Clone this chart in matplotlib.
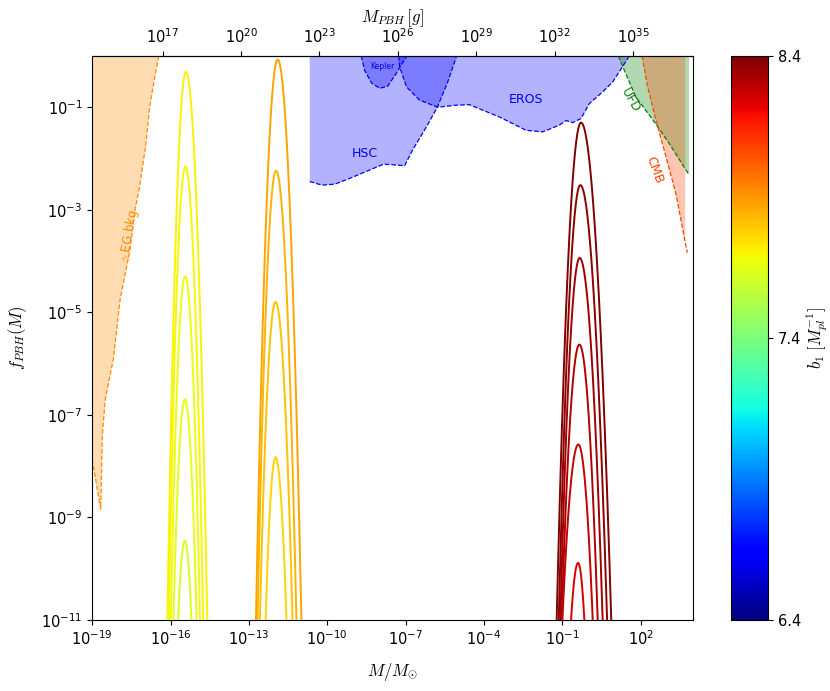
import numpy as np
import matplotlib
matplotlib.use("Agg")
import matplotlib.pyplot as plt
from matplotlib import cm, colors

MSUN_G = 1.989e33

# ---------- PBH mass-function curves (log10 values) ----------
# each curve: peak position, peak height, and where it reaches f = 1e-11 on each side
YEL_B1 = [7.71, 7.69, 7.67, 7.65, 7.62]
YEL_PEAK_M = [-15.41, -15.43, -15.44, -15.45, -15.45]
YEL_PEAK_F = [-0.31, -2.16, -4.30, -6.70, -9.46]
YEL_LEFT = [-16.12, -16.07, -15.99, -15.89, -15.71]
YEL_RIGHT = [-14.59, -14.75, -14.87, -15.00, -15.20]

ORA_B1 = [7.87, 7.84, 7.81, 7.77]
ORA_PEAK_M = [-11.90, -11.96, -11.98, -11.98]
ORA_PEAK_F = [-0.07, -2.24, -4.80, -7.83]
ORA_LEFT = [-12.73, -12.67, -12.58, -12.36]
ORA_RIGHT = [-10.99, -11.18, -11.33, -11.56]

RED_B1 = [8.40, 8.37, 8.34, 8.31, 8.28, 8.25]
RED_PEAK_M = [-0.29, -0.315, -0.34, -0.35, -0.39, -0.40]
RED_PEAK_F = [-1.30, -2.52, -3.94, -5.63, -7.58, -9.89]
RED_LEFT = [-1.22, -1.14, -1.08, -1.03, -1.00, -0.67]
RED_RIGHT = [0.87, 0.71, 0.54, 0.35, 0.16, -0.16]

# ---------- constraint boundaries (log10 M/Msun, log10 f) ----------
EG_M = [-19.0, -18.67, -18.61, -18.50, -18.19, -17.93, -17.55, -17.36, -17.20, -16.95, -16.80, -16.60, -16.45]
EG_F = [-7.87, -8.84, -7.41, -6.70, -5.92, -4.75, -3.78, -3.00, -2.60, -1.75, -1.00, -0.40, 0.00]

HSC_M = [-10.67, -10.20, -9.71, -9.20, -8.64, -7.84, -7.04, -6.73, -6.20, -5.78, -5.40, -5.05]
HSC_F = [-2.45, -2.52, -2.50, -2.40, -2.28, -2.11, -2.14, -1.83, -1.38, -0.99, -0.52, 0.00]

KEP_M = [-8.70, -8.57, -8.30, -7.99, -7.69, -7.36, -7.15, -6.95]
KEP_F = [0.00, -0.28, -0.53, -0.63, -0.59, -0.34, -0.16, 0.00]

EROS_M = [-7.27, -7.23, -6.97, -6.47, -5.77, -5.06, -4.56, -3.41, -2.39, -1.75, -1.12, -0.86,
          -0.61, -0.29, 0.03, 0.54, 0.92, 1.30, 1.56]
EROS_F = [0.00, -0.21, -0.60, -0.86, -1.00, -0.96, -0.95, -1.19, -1.45, -1.48, -1.35, -1.26,
          -1.30, -1.22, -0.93, -0.70, -0.51, -0.21, 0.00]

UFD_M = [1.14, 1.37, 1.81, 2.51, 3.08, 3.82]
UFD_F = [0.00, -0.28, -0.80, -1.28, -1.70, -2.30]
UFD_EDGE = 3.85

CMB_M = [2.05, 2.26, 2.58, 2.96, 3.34, 3.70, 3.78]
CMB_F = [0.00, -0.60, -1.25, -1.96, -2.68, -3.63, -3.84]

B1_MIN, B1_MAX = 6.4, 8.4

fig = plt.figure(figsize=(8.30, 6.91), dpi=100)
ax = fig.add_axes([0.111, 0.103, 0.724, 0.816])
cax = fig.add_axes([0.881, 0.103, 0.0446, 0.816])

norm = colors.Normalize(B1_MIN, B1_MAX)
cmap = plt.get_cmap("jet")


def draw_curves(b1s, pm, pf, left, right):
    for b, xc, yp, xl, xr in zip(b1s, pm, pf, left, right):
        depth = yp + 11.0
        # lognormal mass function with separate widths on each side
        x = np.linspace(xl - 0.15, xr + 0.15, 600)
        y = np.where(x < xc,
                     yp - depth * ((x - xc) / (xl - xc)) ** 2,
                     yp - depth * ((x - xc) / (xr - xc)) ** 2)
        ax.plot(10 ** x, 10 ** y, color=cmap(norm(b)), lw=1.4, zorder=5)


def region(xs, ys, color, closing, edge=None, xline=None, yline=None):
    px = list(xs) + [c[0] for c in closing]
    py = list(ys) + [c[1] for c in closing]
    ax.fill(10 ** np.array(px), 10 ** np.array(py), color=color, alpha=0.3, lw=0, zorder=1)
    lx = xs if xline is None else xline
    ly = ys if yline is None else yline
    ax.plot(10 ** np.array(lx), 10 ** np.array(ly), ls="--", lw=0.9, color=edge or color, zorder=2)


region(EG_M, EG_F, "darkorange", [(-19.0, 0.0)])
region(HSC_M, HSC_F, "blue", [(HSC_M[0], 0.0)])
region(EROS_M, EROS_F, "blue", [])
region(KEP_M, KEP_F, "blue", [])
region(UFD_M, UFD_F, "green", [(UFD_EDGE, UFD_F[-1]), (UFD_EDGE, 0.0)])
region(CMB_M[:-1], CMB_F[:-1], "orangered", [(CMB_M[-2], 0.0)],
       xline=CMB_M, yline=CMB_F)

draw_curves(YEL_B1, YEL_PEAK_M, YEL_PEAK_F, YEL_LEFT, YEL_RIGHT)
draw_curves(ORA_B1, ORA_PEAK_M, ORA_PEAK_F, ORA_LEFT, ORA_RIGHT)
draw_curves(RED_B1, RED_PEAK_M, RED_PEAK_F, RED_LEFT, RED_RIGHT)

ax.text(10 ** -17.58, 10 ** -3.51, r"$\gamma$ EG bkg", color="darkorange", fontsize=8.5,
        rotation=80, ha="center", va="center", math_fontfamily="cm")
ax.text(10 ** -8.57, 10 ** -1.91, "HSC", color="blue", fontsize=9, ha="center", va="center")
ax.text(10 ** -7.88, 10 ** -0.20, "Kepler", color="blue", fontsize=5.5, ha="center", va="center")
ax.text(10 ** -2.38, 10 ** -0.84, "EROS", color="blue", fontsize=9, ha="center", va="center")
ax.text(10 ** 1.62, 10 ** -0.86, "UFD", color="green", fontsize=9, rotation=-60,
        ha="center", va="center")
ax.text(10 ** 2.51, 10 ** -2.22, "CMB", color="orangered", fontsize=9, rotation=-70,
        ha="center", va="center")

ax.set_xscale("log")
ax.set_yscale("log")
ax.set_xlim(1e-19, 1e4)
ax.set_ylim(1e-11, 1)
ax.set_xticks([10.0 ** p for p in range(-19, 3, 3)])
ax.set_yticks([10.0 ** p for p in range(-11, 0, 2)])
ax.xaxis.set_minor_locator(matplotlib.ticker.NullLocator())
ax.yaxis.set_minor_locator(matplotlib.ticker.NullLocator())
ax.tick_params(labelsize=10.5)
ax.set_xlabel(r"$M/M_{\odot}$", fontsize=12, labelpad=9, math_fontfamily="cm")
ax.set_ylabel(r"$f_{PBH}(M)$", fontsize=12, labelpad=9, math_fontfamily="cm")

top = ax.secondary_xaxis("top", functions=(lambda m: m * MSUN_G, lambda g: g / MSUN_G))
top.set_xticks([10.0 ** p for p in range(17, 36, 3)])
top.xaxis.set_minor_locator(matplotlib.ticker.NullLocator())
top.tick_params(labelsize=10.5)
top.set_xlabel(r"$M_{PBH}\,[g]$", fontsize=12, labelpad=4, math_fontfamily="cm")

sm = cm.ScalarMappable(norm=norm, cmap=cmap)
cbar = fig.colorbar(sm, cax=cax, ticks=[6.4, 7.4, 8.4])
cbar.ax.tick_params(labelsize=10.5)
cbar.set_label(r"$b_1\ [M_{pl}^{-1}]$", fontsize=12, labelpad=2, math_fontfamily="cm")

fig.savefig("out.png", dpi=100)
